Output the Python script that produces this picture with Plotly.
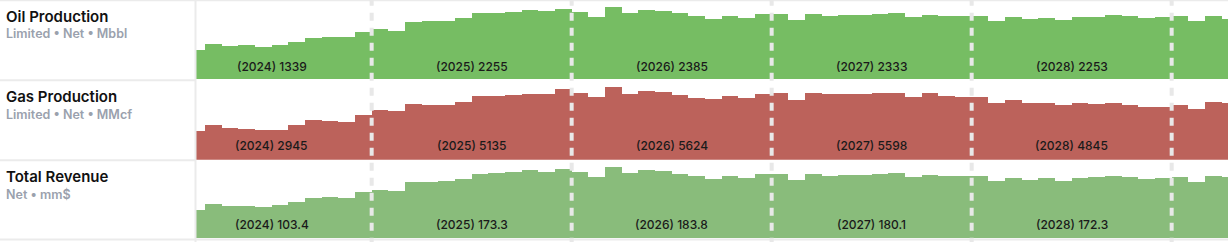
import plotly.graph_objects as go

# Monthly series, Jan 2024 .. Apr 2029 (Jan 2024 lies just left of the visible window)
oil = [99, 89, 107, 102, 104, 98, 104, 113, 124, 127, 129, 144,
       153, 147, 174, 177, 177, 185, 201, 203, 205, 211, 208, 214,
       205, 190, 221, 202, 211, 208, 202, 193, 183, 192, 186, 199,
       199, 180, 199, 192, 196, 196, 199, 202, 189, 196, 192, 192,
       192, 177, 189, 183, 186, 180, 189, 189, 196, 192, 186, 189,
       192, 177, 192, 183]
gas = [210, 208, 249, 228, 220, 213, 213, 249, 285, 278, 271, 321,
       357, 350, 400, 393, 393, 414, 457, 457, 465, 472, 472, 508,
       479, 450, 522, 472, 493, 486, 465, 443, 436, 457, 443, 472,
       479, 429, 479, 472, 472, 472, 479, 479, 450, 479, 457, 450,
       450, 407, 429, 407, 407, 393, 407, 400, 407, 393, 378, 378,
       393, 364, 414, 407]
revenue = [9.1, 6.7, 8.2, 7.7, 7.7, 7.4, 7.9, 8.6, 9.6, 9.8, 9.6, 11.0,
           11.5, 11.3, 13.4, 13.4, 13.7, 14.2, 15.4, 15.6, 15.8, 16.3, 15.8, 16.6,
           15.8, 14.6, 17.0, 15.6, 16.3, 16.1, 15.4, 14.9, 14.2, 14.9, 14.4, 15.4,
           15.4, 13.9, 15.4, 14.9, 15.1, 15.1, 15.4, 15.6, 14.6, 15.1, 14.9, 14.9,
           14.9, 13.7, 14.4, 13.9, 14.4, 13.7, 14.4, 14.6, 14.9, 14.6, 14.2, 14.4,
           14.6, 13.4, 14.9, 14.6]

years = [2024, 2025, 2026, 2027, 2028]
oil_totals = [1339, 2255, 2385, 2333, 2253]
gas_totals = [2945, 5135, 5624, 5598, 4845]
revenue_totals = [103.4, 173.3, 183.8, 180.1, 172.3]

row_titles = ["Oil Production", "Gas Production", "Total Revenue"]
row_subtitles = ["Limited • Net • Mbbl", "Limited • Net • MMcf", "Net • mm$"]

W, H = 1228, 242
FONT = "Inter, Roboto, sans-serif"


def py(px):
    return 1 - px / H


x_vals = [i + 0.5 for i in range(len(oil))]
x_range = [1.46, 63.38]
x_dom = [196 / W, 1]

rows = [
    dict(y=oil, color="#76BD63", top=1, bottom=79, ymax=238.3,
         totals=[str(v) for v in oil_totals], label_y=66),
    dict(y=gas, color="#BC625B", top=81, bottom=159.7, ymax=565,
         totals=[str(v) for v in gas_totals], label_y=145),
    dict(y=revenue, color="#89BC7B", top=161, bottom=238, ymax=18.5,
         totals=[f"{v:.1f}" for v in revenue_totals], label_y=224),
]

fig = go.Figure()
layout = dict(width=W, height=H, margin=dict(l=0, r=0, t=0, b=0),
              paper_bgcolor="white", plot_bgcolor="white",
              showlegend=False, bargap=0, font=dict(family=FONT))
annotations = []
shapes = []

for r, row in enumerate(rows):
    sfx = "" if r == 0 else str(r + 1)
    fig.add_trace(go.Bar(x=x_vals, y=row["y"], width=1,
                         marker=dict(color=row["color"], line=dict(width=0)),
                         xaxis="x" + sfx, yaxis="y" + sfx, hoverinfo="skip"))
    layout["xaxis" + sfx] = dict(domain=x_dom, range=x_range, visible=False,
                                 anchor="y" + sfx, fixedrange=True)
    layout["yaxis" + sfx] = dict(domain=[py(row["bottom"]), py(row["top"])],
                                 range=[0, row["ymax"]], visible=False,
                                 anchor="x" + sfx, fixedrange=True)
    for k, yr in enumerate(years):
        annotations.append(dict(x=12 * k + 6, y=py(row["label_y"]), xref="x" + sfx,
                                yref="paper", text=f"({yr}) {row['totals'][k]}",
                                showarrow=False, xanchor="center", yanchor="middle",
                                font=dict(family=FONT, size=12, color="#1a1a1a", weight=500)))
    base = r * 80
    annotations.append(dict(x=4 / W, y=py(base + 16), xref="paper", yref="paper",
                            text=row_titles[r], showarrow=False, xanchor="left",
                            yanchor="middle",
                            font=dict(family=FONT, size=15, color="#111111", weight=600)))
    annotations.append(dict(x=4 / W, y=py(base + 34), xref="paper", yref="paper",
                            text=row_subtitles[r], showarrow=False, xanchor="left",
                            yanchor="middle",
                            font=dict(family=FONT, size=12.5, color="#9aa1ad", weight=600)))

# borders
border = "#ebebeb"
shapes.append(dict(type="line", xref="paper", yref="paper", x0=0, x1=1,
                   y0=py(0.5), y1=py(0.5), line=dict(color=border, width=1.5)))
shapes.append(dict(type="line", xref="paper", yref="paper", x0=0, x1=1,
                   y0=py(239.5), y1=py(239.5), line=dict(color=border, width=2)))
for yb in (80.2, 160.2):
    shapes.append(dict(type="line", xref="paper", yref="paper", x0=0, x1=196 / W,
                       y0=py(yb), y1=py(yb), line=dict(color=border, width=2)))
shapes.append(dict(type="line", xref="paper", yref="paper", x0=195.5 / W, x1=195.5 / W,
                   y0=0, y1=1, line=dict(color=border, width=2)))

# year boundary dashed lines
for k in range(1, 6):
    shapes.append(dict(type="line", xref="x", yref="paper", x0=12 * k, x1=12 * k,
                       y0=1 + 2.3 / H, y1=0, layer="above",
                       line=dict(color="#e8e8e8", width=4, dash="8px,7px")))

layout["annotations"] = annotations
layout["shapes"] = shapes
fig.update_layout(**layout)
fig.write_html("out.html")
